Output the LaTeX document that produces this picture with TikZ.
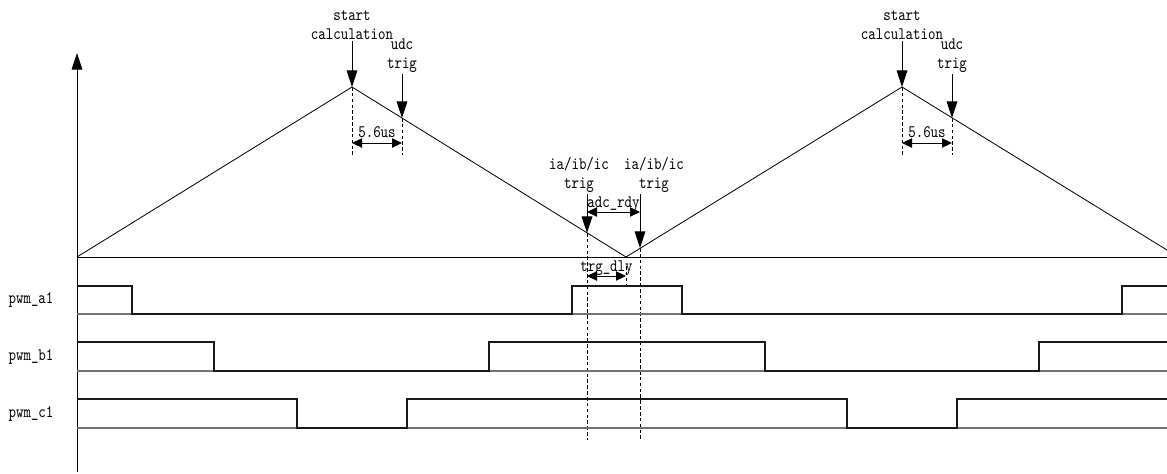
\documentclass[tikz,border=0pt]{standalone}
\usepackage{fontspec}
\usepackage{tikz}
\usetikzlibrary{positioning, arrows.meta, calc}

\newfontfamily\labelfont[FakeStretch=0.81]{lmmono10-regular.otf}

\tikzset{
    lbl/.style={font=\labelfont\fontsize{15}{16.2}\selectfont, align=center, inner sep=1pt},
    bigarr/.style={-{Triangle[length=0.5cm, width=0.32cm]}, line width=0.8pt},
    dimarr/.style={{Triangle[length=0.3cm, width=0.28cm]}-{Triangle[length=0.3cm, width=0.28cm]}, line width=0.8pt},
    guide/.style={dashed, dash pattern=on 3pt off 2pt, line width=0.7pt},
    base/.style={line width=1.1pt, black!55},
    wave/.style={line width=1.1pt, black!90},
}

\begin{document}
\begin{tikzpicture}[x=0.03cm, y=-0.03cm, line width=0.7pt]
    \useasboundingbox (0,0) rectangle (1167,474);

    \coordinate (origin) at (77,257);
    \coordinate (peakA) at (352,87);
    \coordinate (valley) at (626,257);
    \coordinate (peakB) at (902,87);
    \coordinate (endT) at (1167,250);
    \coordinate (udcPtA) at (402,118);
    \coordinate (udcPtB) at (952,118);
    \coordinate (trigA) at (587,233);
    \coordinate (trigB) at (640,248);

    \draw[bigarr] (77,472) -- (77,53);
    \draw (origin) -- (1167,257);
    \draw (origin) -- (peakA) -- (valley) -- (peakB) -- (endT);

    \node (calcA) [lbl, anchor=south] at (352,41) {start\\calculation};
    \node (calcB) [lbl, anchor=south] at (902,41) {start\\calculation};
    \node (udcA) [lbl, anchor=south] at (402,74) {udc\\trig};
    \node (udcB) [lbl, anchor=south] at (952,74) {udc\\trig};
    \node (iaA) [lbl, anchor=south] at (579,194) {ia/ib/ic\\trig};
    \node (iaB) [lbl, anchor=south] at (654,194) {ia/ib/ic\\trig};

    \draw[bigarr] (calcA.south) -- (peakA);
    \draw[bigarr] (calcB.south) -- (peakB);
    \draw[bigarr] (udcA.south) -- (udcPtA);
    \draw[bigarr] (udcB.south) -- (udcPtB);
    \draw[bigarr] (iaA.south -| trigA) -- (trigA);
    \draw[bigarr] (iaB.south -| trigB) -- (trigB);

    \draw[guide] (peakA) -- ++(0,68);
    \draw[guide] (udcPtA) -- ++(0,37);
    \draw[guide] (peakB) -- ++(0,68);
    \draw[guide] (udcPtB) -- ++(0,37);
    \draw[guide] (trigA) -- (587,440);
    \draw[guide] (trigB) -- (640,440);
    \draw[guide] (626,266) -- (626,286);

    \draw[dimarr] (352,143) -- node[lbl, above=0.15cm, inner sep=0pt] {5.6us} (402,143);
    \draw[dimarr] (902,143) -- node[lbl, above=0.15cm, inner sep=0pt] {5.6us} (952,143);
    \draw[dimarr] (587,212) -- node[lbl, above=0pt, inner sep=0pt] {adc\_rdy} (640,212);
    \draw[dimarr] (587,276) -- node[lbl, above=0pt, inner sep=0pt] {trg\_dly} (626,276);

    \foreach \sig/\y in {a1/314, b1/371, c1/428} {
        \node (pwm\sig) [lbl, anchor=west] at (7,\y-14) {pwm\_\sig};
        \draw[base] (77,\y) -- (1167,\y);
    }

    \draw[wave] (77,286) -- (132,286) -- (132,314) -- (572,314) -- (572,286) -- (682,286)
        -- (682,314) -- (1122,314) -- (1122,286) -- (1167,286);
    \draw[wave] (77,342) -- (214,342) -- (214,371) -- (489,371) -- (489,342) -- (765,342)
        -- (765,371) -- (1039,371) -- (1039,342) -- (1167,342);
    \draw[wave] (77,399) -- (297,399) -- (297,428) -- (407,428) -- (407,399) -- (847,399)
        -- (847,428) -- (957,428) -- (957,399) -- (1167,399);
\end{tikzpicture}
\end{document}
